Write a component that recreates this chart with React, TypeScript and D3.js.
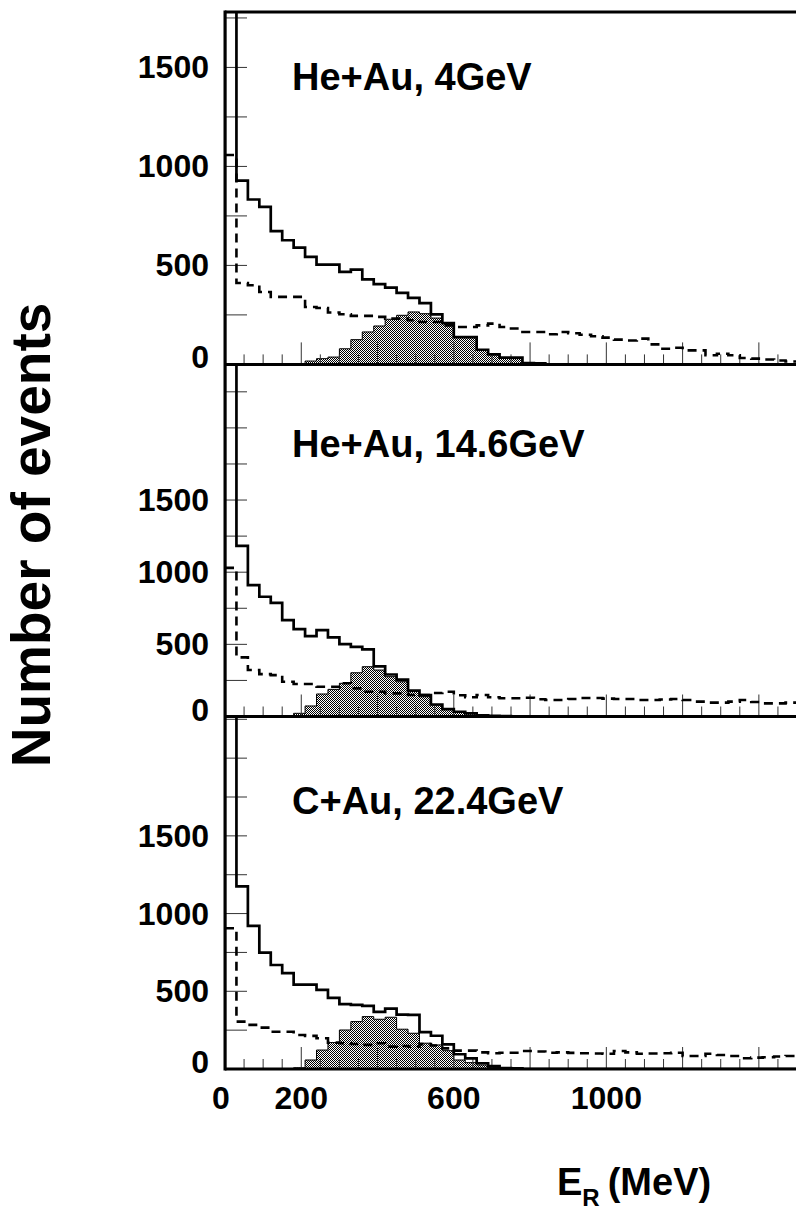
import React from "react";
import * as d3 from "d3";

// ---------- data (30 MeV bins, 0 - 1500 MeV) ----------
const BIN_WIDTH = 30;
const X_MAX = 1500;

const panelTitles = ["He+Au, 4GeV", "He+Au, 14.6GeV", "C+Au, 22.4GeV"];
const panelYMax = [1780, 2440, 2268];

// He+Au, 4 GeV
const solidHe4 = [2500, 928, 833, 796, 673, 627, 590, 543, 504, 504, 467, 479, 429, 405, 388, 361, 336, 310, 253, 209, 138, 138, 74, 51, 34, 34, 7, 5, 0, 0, 0, 0, 0, 0, 0, 0, 0, 0, 0, 0, 0, 0, 0, 0, 0, 0, 0, 0, 0, 0];
const hatchHe4 = [0, 0, 0, 0, 0, 0, 3, 17, 29, 37, 79, 125, 164, 194, 228, 248, 265, 256, 234, 205, 136, 135, 72, 50, 32, 29, 5, 3, 0, 0, 0, 0, 0, 0, 0, 0, 0, 0, 0, 0, 0, 0, 0, 0, 0, 0, 0, 0, 0, 0];
const dashHe4 = [1058, 411, 400, 366, 341, 341, 341, 290, 285, 262, 253, 245, 245, 240, 231, 231, 223, 214, 214, 197, 189, 189, 197, 206, 189, 181, 164, 164, 152, 164, 157, 150, 142, 135, 125, 121, 130, 101, 79, 84, 71, 71, 46, 54, 46, 32, 29, 25, 20, 15];

// He+Au, 14.6 GeV
const solidHe146 = [3000, 1183, 911, 830, 788, 668, 606, 557, 599, 548, 502, 483, 465, 347, 291, 256, 180, 148, 83, 51, 33, 22, 8, 5, 3, 0, 0, 0, 0, 0, 0, 0, 0, 0, 0, 0, 0, 0, 0, 0, 0, 0, 0, 0, 0, 0, 0, 0, 0, 0];
const hatchHe146 = [0, 0, 0, 0, 0, 5, 22, 73, 156, 188, 230, 303, 345, 322, 276, 241, 175, 137, 80, 50, 33, 22, 8, 4, 0, 0, 0, 0, 0, 0, 0, 0, 0, 0, 0, 0, 0, 0, 0, 0, 0, 0, 0, 0, 0, 0, 0, 0, 0, 0];
const dashHe146 = [1030, 410, 322, 294, 287, 241, 225, 225, 206, 206, 230, 195, 172, 172, 160, 160, 149, 149, 163, 172, 147, 133, 149, 133, 126, 126, 130, 120, 114, 114, 121, 128, 128, 124, 121, 121, 114, 114, 118, 121, 114, 103, 96, 96, 103, 114, 100, 91, 91, 96];

// C+Au, 22.4 GeV
const solidC224 = [3000, 1175, 921, 749, 669, 617, 543, 543, 509, 458, 417, 412, 406, 368, 389, 350, 348, 237, 214, 158, 95, 69, 37, 19, 6, 4, 0, 0, 0, 0, 0, 0, 0, 0, 0, 0, 0, 0, 0, 0, 0, 0, 0, 0, 0, 0, 0, 0, 0, 0];
const hatchC224 = [0, 0, 0, 0, 0, 0, 8, 58, 122, 170, 251, 305, 337, 320, 333, 256, 230, 166, 155, 118, 58, 41, 26, 10, 3, 0, 0, 0, 0, 0, 0, 0, 0, 0, 0, 0, 0, 0, 0, 0, 0, 0, 0, 0, 0, 0, 0, 0, 0, 0];
const dashC224 = [906, 305, 284, 266, 240, 240, 219, 213, 198, 170, 166, 161, 155, 166, 144, 148, 144, 160, 151, 133, 118, 118, 107, 101, 105, 105, 116, 113, 105, 107, 104, 101, 100, 98, 116, 107, 98, 100, 101, 105, 84, 84, 98, 90, 84, 69, 73, 76, 80, 84];

const panelSolid = [solidHe4, solidHe146, solidC224];
const panelHatch = [hatchHe4, hatchHe146, hatchC224];
const panelDash = [dashHe4, dashHe146, dashC224];

const yTickLabelValues = [0, 500, 1000, 1500];
const xTickLabelValues = [0, 200, 600, 1000];
const Y_TICK_STEP = 250;
const X_TICK_STEP = 50;
const X_MAJOR_STEP = 200;

// ---------- layout ----------
const W = 796;
const H = 1213;
const LEFT = 225;
const RIGHT = 797;
const PANEL_EDGES = [12, 364.4, 716.5, 1069];
const TITLE_BASELINES = [90, 457, 814];
const FONT = "'Liberation Sans', Arial, Helvetica, sans-serif";

type Pt = { x: number; v: number };

function toPoints(vals: number[]): Pt[] {
  const pts = vals.map((v, i) => ({ x: i * BIN_WIDTH, v }));
  pts.push({ x: vals.length * BIN_WIDTH, v: vals[vals.length - 1] });
  return pts;
}

function Panel({ idx }: { idx: number }) {
  const top = PANEL_EDGES[idx];
  const bottom = PANEL_EDGES[idx + 1];
  const yMax = panelYMax[idx];
  const x = d3.scaleLinear().domain([0, X_MAX]).range([LEFT, RIGHT]);
  const y = d3.scaleLinear().domain([0, yMax]).range([bottom, top]);

  const area = d3
    .area<Pt>()
    .x((d) => x(d.x))
    .y0(y(0))
    .y1((d) => y(d.v))
    .curve(d3.curveStepAfter);
  const line = d3
    .line<Pt>()
    .x((d) => x(d.x))
    .y((d) => y(d.v))
    .curve(d3.curveStepAfter);

  const solidPts = [{ x: 0, v: 0 }, ...toPoints(panelSolid[idx])];
  const hatchPts = toPoints(panelHatch[idx]);
  const dashPts = toPoints(panelDash[idx]);

  const xTicks = d3.range(X_TICK_STEP, X_MAX, X_TICK_STEP);
  const yTicks = d3.range(Y_TICK_STEP, yMax, Y_TICK_STEP);
  const clipId = `clip${idx}`;

  return (
    <g>
      <defs>
        <clipPath id={clipId}>
          <rect x={LEFT} y={top} width={RIGHT - LEFT} height={bottom - top} />
        </clipPath>
      </defs>
      <g clipPath={`url(#${clipId})`}>
        <path d={area(hatchPts) || ""} fill="url(#checker)" stroke="#000" strokeWidth={1} />
        {xTicks.map((t) => (
          <line
            key={t}
            x1={x(t)}
            x2={x(t)}
            y1={bottom}
            y2={bottom - (t % X_MAJOR_STEP === 0 ? 22 : 10)}
            stroke="#333"
            strokeWidth={1}
          />
        ))}
        {yTicks.map((t) => (
          <line key={t} x1={LEFT} x2={LEFT + 22} y1={y(t)} y2={y(t)} stroke="#333" strokeWidth={1} />
        ))}
        <path d={line(dashPts) || ""} fill="none" stroke="#000" strokeWidth={2.6} strokeDasharray="9,6" />
        <path d={line(solidPts) || ""} fill="none" stroke="#000" strokeWidth={2.7} />
      </g>
      <line x1={LEFT} x2={W} y1={bottom} y2={bottom} stroke="#000" strokeWidth={3} />
      {yTickLabelValues.map((t) => (
        <text
          key={t}
          x={209}
          y={Math.min(y(t), bottom - 7)}
          textAnchor="end"
          dominantBaseline="central"
          fontFamily={FONT}
          fontWeight="bold"
          fontSize={32}
        >
          {t}
        </text>
      ))}
      <text x={292} y={TITLE_BASELINES[idx]} fontFamily={FONT} fontWeight="bold" fontSize={38}>
        {panelTitles[idx]}
      </text>
    </g>
  );
}

export default function App() {
  const x = d3.scaleLinear().domain([0, X_MAX]).range([LEFT, RIGHT]);
  return (
    <svg
      width={W}
      height={H}
      viewBox={`0 0 ${W} ${H}`}
      style={{ position: "absolute", left: 0, top: 0, background: "#fff" }}
    >
      <defs>
        <pattern id="checker" width={2} height={2} patternUnits="userSpaceOnUse">
          <rect width={2} height={2} fill="#fff" />
          <rect width={1} height={1} fill="#000" />
          <rect x={1} y={1} width={1} height={1} fill="#000" />
        </pattern>
      </defs>
      <rect width={W} height={H} fill="#fff" />
      {[0, 1, 2].map((i) => (
        <Panel key={i} idx={i} />
      ))}
      <line x1={LEFT} x2={W} y1={PANEL_EDGES[0]} y2={PANEL_EDGES[0]} stroke="#000" strokeWidth={3} />
      <line x1={LEFT} x2={LEFT} y1={PANEL_EDGES[0] - 1.5} y2={PANEL_EDGES[3] + 1.5} stroke="#000" strokeWidth={3} />
      {xTickLabelValues.map((t) => (
        <text
          key={t}
          x={x(t) - (t === 0 ? 4 : 0)}
          y={1109}
          textAnchor="middle"
          fontFamily={FONT}
          fontWeight="bold"
          fontSize={32}
        >
          {t}
        </text>
      ))}
      <text
        transform="translate(50,535) rotate(-90)"
        textAnchor="middle"
        fontFamily={FONT}
        fontWeight="bold"
        fontSize={55}
      >
        Number of events
      </text>
      <text x={557} y={1195} fontFamily={FONT} fontWeight="bold" fontSize={38}>
        E
        <tspan dy={11} fontSize={24}>
          R
        </tspan>
        <tspan dy={-11} dx={8}>
          (MeV)
        </tspan>
      </text>
    </svg>
  );
}
